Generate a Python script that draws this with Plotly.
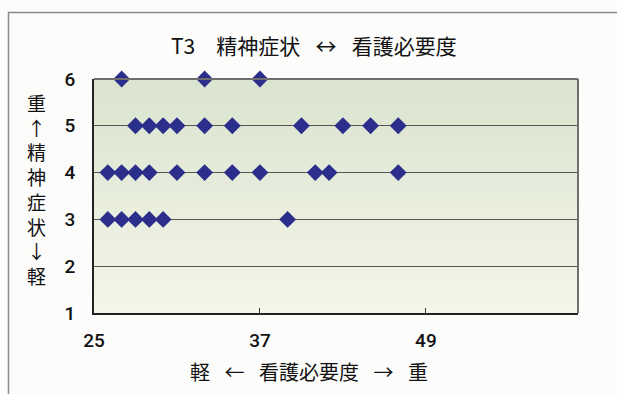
import plotly.graph_objects as go

# Data: 看護必要度 (x) for each 精神症状 level (y)
levels = [6, 5, 4, 3]
nursing_need = {
    6: [27, 33, 37],
    5: [28, 29, 30, 31, 33, 35, 40, 43, 45, 47],
    4: [26, 27, 28, 29, 31, 33, 35, 37, 41, 42, 47],
    3: [26, 27, 28, 29, 30, 39],
}
x_ticks = [25, 37, 49]
y_ticks = [1, 2, 3, 4, 5, 6]
title_text = "T3\u3000精神症状 \u2002↔\u2002 看護必要度"
x_title = "軽 \u2002←\u2002 看護必要度 \u2002→\u2002 重"
y_title_chars = ["重", "↑", "精", "神", "症", "状", "↓", "軽"]

xs, ys = [], []
for lv in levels:
    for v in nursing_need[lv]:
        xs.append(v)
        ys.append(lv)

W, H = 617, 394
L, R, T, B = 94, 39, 79, 81
pw, ph = W - L - R, H - T - B

def px2x(px):
    return (px - L) / pw

def py2y(py):
    return (H - B - py) / ph

num_font = "Roboto, Liberation Sans, Arial, sans-serif"
cjk_font = "Noto Sans CJK JP, sans-serif"

fig = go.Figure()
fig.add_trace(go.Scatter(
    x=xs, y=ys, mode="markers",
    marker=dict(symbol="diamond", size=13, color="#2b2e8a", line=dict(width=0)),
    cliponaxis=False, showlegend=False,
))

shapes = []
# gradient background in plot area
n = 40
c_top = (218, 228, 207)
c_bot = (244, 245, 232)
for i in range(n):
    t = i / (n - 1)
    c = tuple(round(c_top[k] + (c_bot[k] - c_top[k]) * t) for k in range(3))
    shapes.append(dict(type="rect", xref="paper", yref="paper",
                       x0=0, x1=1, y0=1 - (i + 1) / n, y1=1 - i / n + 0.001,
                       fillcolor="rgb(%d,%d,%d)" % c, line=dict(width=0), layer="below"))
# top and right borders of plot
shapes.append(dict(type="line", xref="paper", yref="paper", x0=0, x1=1, y0=1, y1=1,
                   line=dict(color="#6e6e6e", width=2)))
shapes.append(dict(type="line", xref="paper", yref="paper", x0=1, x1=1, y0=0, y1=1,
                   line=dict(color="#6e6e6e", width=2)))
# outer frame (left and top)
shapes.append(dict(type="line", xref="paper", yref="paper",
                   x0=px2x(8.5), x1=px2x(8.5), y0=py2y(12), y1=py2y(400),
                   line=dict(color="#8a8a8a", width=1.5)))
shapes.append(dict(type="line", xref="paper", yref="paper",
                   x0=px2x(8), x1=px2x(620), y0=py2y(12.5), y1=py2y(12.5),
                   line=dict(color="#8a8a8a", width=1.5)))

annotations = [
    dict(text=title_text, xref="paper", yref="paper", x=px2x(314), y=py2y(45),
         showarrow=False, font=dict(family=cjk_font, size=21, color="#111"),
         xanchor="center", yanchor="middle"),
    dict(text=x_title, xref="paper", yref="paper", x=px2x(309), y=py2y(371),
         showarrow=False, font=dict(family=cjk_font, size=20, color="#111"),
         xanchor="center", yanchor="middle"),
    dict(text="<br>".join(y_title_chars), xref="paper", yref="paper",
         x=px2x(36), y=py2y(189), showarrow=False,
         font=dict(family=cjk_font, size=19, color="#111"),
         xanchor="center", yanchor="middle", align="center"),
]

fig.update_layout(
    width=W, height=H,
    margin=dict(l=L, r=R, t=T, b=B, pad=0),
    paper_bgcolor="#fcfcfb",
    plot_bgcolor="#eef0e2",
    shapes=shapes,
    annotations=annotations,
    xaxis=dict(range=[25, 60], tickvals=x_ticks, ticktext=[str(v) for v in x_ticks],
               ticks="inside", ticklen=5, tickcolor="#333", tickwidth=1,
               showgrid=False, zeroline=False, showline=True, linecolor="#222", linewidth=2,
               tickfont=dict(family=num_font, size=19, color="#111", weight=500),
               ticklabelstandoff=9),
    yaxis=dict(range=[1, 6], tickvals=y_ticks, ticks="",
               showgrid=True, gridcolor="#555", gridwidth=1,
               zeroline=False, showline=True, linecolor="#222", linewidth=2,
               tickfont=dict(family=num_font, size=19, color="#111", weight=500),
               ticklabelstandoff=13),
)

fig.write_html("out.html")
